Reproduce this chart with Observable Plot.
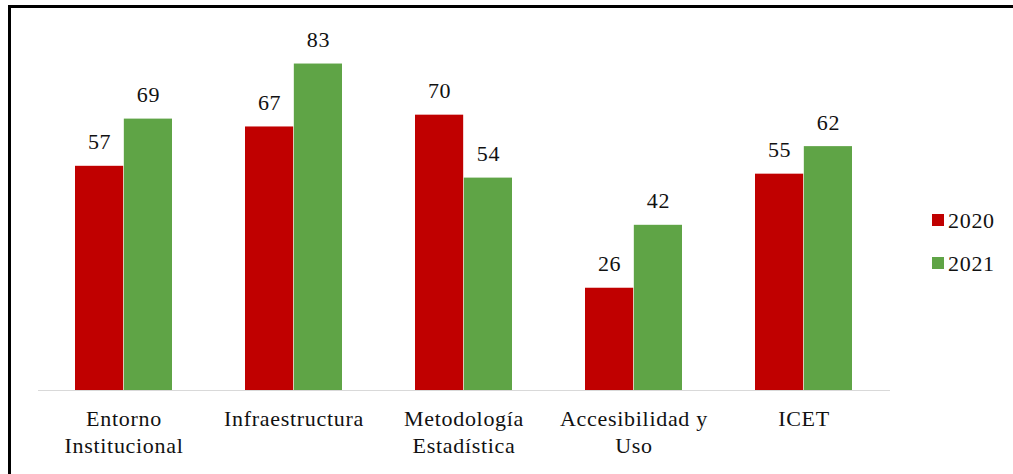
<!DOCTYPE html>
<html>
<head>
<meta charset="utf-8">
<script src="https://cdn.jsdelivr.net/npm/d3@7"></script>
<script src="https://cdn.jsdelivr.net/npm/@observablehq/plot@0.6"></script>
<style>
  html, body { margin: 0; padding: 0; background: white; }
  #wrap { position: relative; width: 1013px; height: 474px; overflow: hidden; background: white; }
  #wrap svg { position: absolute; left: 0; top: 0; }
  #frame { position: absolute; left: 8px; top: 5px; width: 1010px; height: 480px; border-top: 3px solid #000; border-left: 3px solid #000; box-sizing: border-box; pointer-events: none; }
  .leg { position: absolute; font-family: "Liberation Serif", "Times New Roman", serif; font-size: 22px; color: #111; letter-spacing: 0.7px; line-height: 1; }
  .sw { position: absolute; width: 12px; height: 12px; }
</style>
</head>
<body>
<div id="wrap"></div>
<script>
const categories = ["Entorno\nInstitucional", "Infraestructura", "Metodología\nEstadística", "Accesibilidad y\nUso", "ICET"];
const years = ["2020", "2021"];
const values2020 = [57, 67, 70, 26, 55];
const values2021 = [69, 83, 54, 42, 62];
const colors = ["#C00000", "#5FA446"];

const series = [values2020, values2021];
const data = [];
years.forEach((yr, j) => categories.forEach((c, i) => data.push({category: c, year: yr, value: series[j][i]})));

const W = 1013, H = 474, mL = 38, mR = 123, mT = 36, mB = 84;
const pI = 0.427, pO = pI / 2;
const step = (W - mL - mR) / (categories.length - pI + 2 * pO);
const bw = step * (1 - pI);
const half = bw / 2;

const font = '"Liberation Serif", "Times New Roman", serif';

const marks = [];
years.forEach((yr, j) => {
  const rows = data.filter(d => d.year === yr);
  marks.push(Plot.barY(rows, {
    x: "category", y: "value", fill: colors[j],
    insetLeft: j === 0 ? 0 : half, insetRight: j === 0 ? half : 0
  }));
  marks.push(Plot.text(rows, {
    x: "category", y: "value", text: d => String(d.value),
    dx: j === 0 ? -half / 2 : half / 2, dy: -24,
    fill: "#111", fontSize: 22
  }));
});
marks.push(Plot.ruleY([0], {stroke: "#d9d9d9", strokeWidth: 1.2}));
marks.push(Plot.axisX({tickSize: 0, tickPadding: 16, lineHeight: 1.24, fontSize: 22, label: null, fill: "#111"}));

const chart = Plot.plot({
  width: W, height: H,
  marginLeft: mL, marginRight: mR, marginTop: mT, marginBottom: mB,
  x: {domain: categories, paddingInner: pI, paddingOuter: pO, label: null},
  y: {domain: [0, 90], axis: null},
  style: {fontFamily: font, fontSize: "22px", color: "#111", background: "white", letterSpacing: "0.7px", overflow: "visible"},
  marks
});

const wrap = document.getElementById("wrap");
wrap.appendChild(chart);

const legendTops = [214, 257];
years.forEach((yr, j) => {
  const sw = document.createElement("div");
  sw.className = "sw";
  sw.style.left = "932px";
  sw.style.top = legendTops[j] + "px";
  sw.style.background = colors[j];
  wrap.appendChild(sw);
  const lab = document.createElement("div");
  lab.className = "leg";
  lab.style.left = "948px";
  lab.style.top = (legendTops[j] - 4) + "px";
  lab.textContent = yr;
  wrap.appendChild(lab);
});

const frame = document.createElement("div");
frame.id = "frame";
wrap.appendChild(frame);
</script>
</body>
</html>
